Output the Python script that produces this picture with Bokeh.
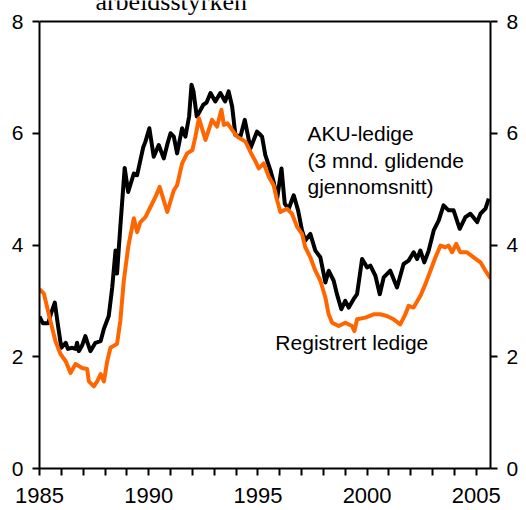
from bokeh.plotting import figure
from bokeh.models import LinearAxis, FixedTicker, Label, Range1d, Span
from bokeh.embed import file_html
from bokeh.resources import INLINE

# AKU-ledige (3 mnd. glidende gjennomsnitt), decimal year / percent
aku_t = [1985.00, 1985.15, 1985.40, 1985.55, 1985.70, 1985.85, 1986.00, 1986.20, 1986.30, 1986.50,
         1986.65, 1986.72, 1986.80, 1986.95, 1987.10, 1987.20, 1987.33, 1987.56, 1987.80, 1987.95,
         1988.17, 1988.33, 1988.48, 1988.55, 1988.70, 1988.90, 1989.06, 1989.32, 1989.47, 1989.62,
         1989.75, 1989.85, 1990.03, 1990.23, 1990.46, 1990.69, 1990.85, 1991.00, 1991.15, 1991.30,
         1991.53, 1991.68, 1991.85, 1991.96, 1992.05, 1992.20, 1992.35, 1992.50, 1992.65, 1992.83,
         1993.05, 1993.28, 1993.50, 1993.66, 1993.82, 1993.97, 1994.20, 1994.40, 1994.66, 1994.96,
         1995.04, 1995.19, 1995.34, 1995.57, 1995.72, 1995.88, 1996.08, 1996.23, 1996.41, 1996.64,
         1996.84, 1997.02, 1997.17, 1997.40, 1997.63, 1997.86, 1998.09, 1998.24, 1998.47, 1998.62,
         1998.82, 1999.00, 1999.16, 1999.38, 1999.54, 1999.77, 2000.00, 2000.15, 2000.38, 2000.58,
         2000.76, 2001.06, 2001.37, 2001.67, 2001.90, 2002.13, 2002.29, 2002.44, 2002.62, 2002.82,
         2003.05, 2003.28, 2003.50, 2003.73, 2003.96, 2004.24, 2004.50, 2004.73, 2005.04, 2005.19,
         2005.42, 2005.57]
aku_v = [2.72, 2.60, 2.60, 2.80, 2.97, 2.55, 2.16, 2.25, 2.14, 2.16,
         2.14, 2.25, 2.10, 2.20, 2.37, 2.25, 2.10, 2.25, 2.28, 2.50,
         2.73, 3.24, 3.90, 3.49, 4.32, 5.38, 4.95, 5.28, 5.25, 5.52,
         5.75, 5.85, 6.09, 5.58, 5.79, 5.55, 5.80, 6.00, 5.94, 5.64,
         6.09, 5.94, 6.30, 6.87, 6.75, 6.30, 6.40, 6.51, 6.55, 6.72,
         6.57, 6.72, 6.57, 6.75, 6.48, 5.97, 5.94, 6.24, 5.73, 6.03,
         6.00, 5.94, 5.61, 5.34, 5.13, 4.83, 5.37, 4.74, 4.65, 4.89,
         4.62, 4.26, 4.08, 4.20, 3.90, 3.78, 3.33, 3.54, 3.36, 3.12,
         2.85, 3.00, 2.88, 3.03, 3.12, 3.75, 3.60, 3.63, 3.45, 3.12,
         3.42, 3.54, 3.24, 3.66, 3.72, 3.87, 3.75, 3.90, 3.69, 3.90,
         4.26, 4.44, 4.71, 4.62, 4.62, 4.29, 4.50, 4.56, 4.41, 4.56,
         4.65, 4.83]

# Registrert ledige
reg_t = [1985.00, 1985.20, 1985.50, 1985.73, 1985.96, 1986.20, 1986.42, 1986.65, 1986.95, 1987.18,
         1987.26, 1987.49, 1987.64, 1987.80, 1987.95, 1988.10, 1988.25, 1988.55, 1988.70, 1988.86,
         1989.06, 1989.32, 1989.47, 1989.62, 1989.85, 1990.08, 1990.31, 1990.50, 1990.85, 1991.15,
         1991.30, 1991.53, 1991.76, 1992.00, 1992.14, 1992.30, 1992.60, 1992.90, 1993.13, 1993.33,
         1993.44, 1993.60, 1993.82, 1994.05, 1994.43, 1994.73, 1994.90, 1995.04, 1995.27, 1995.50,
         1995.72, 1995.88, 1996.03, 1996.33, 1996.56, 1996.80, 1997.02, 1997.17, 1997.40, 1997.63,
         1997.86, 1998.09, 1998.24, 1998.40, 1998.70, 1999.00, 1999.31, 1999.42, 1999.54, 1999.92,
         2000.30, 2000.60, 2000.91, 2001.21, 2001.52, 2001.75, 2001.90, 2002.13, 2002.44, 2002.67,
         2002.90, 2003.13, 2003.36, 2003.58, 2003.73, 2003.89, 2004.08, 2004.27, 2004.57, 2004.88,
         2005.19, 2005.42, 2005.65]
reg_v = [3.21, 3.13, 2.64, 2.28, 2.05, 1.92, 1.71, 1.87, 1.80, 1.78,
         1.56, 1.47, 1.56, 1.69, 1.56, 1.92, 2.16, 2.23, 2.64, 3.36,
         3.96, 4.48, 4.23, 4.41, 4.50, 4.68, 4.86, 5.04, 4.59, 4.98,
         5.07, 5.46, 5.64, 5.70, 5.94, 6.27, 5.88, 6.24, 6.12, 6.42,
         6.15, 6.18, 6.06, 5.94, 5.85, 5.61, 5.49, 5.37, 5.46, 5.22,
         5.07, 4.80, 4.59, 4.65, 4.56, 4.32, 4.20, 3.96, 3.78, 3.54,
         3.36, 3.06, 2.76, 2.61, 2.55, 2.61, 2.55, 2.46, 2.67, 2.70,
         2.76, 2.76, 2.73, 2.67, 2.58, 2.76, 2.91, 2.88, 3.09, 3.30,
         3.54, 3.78, 3.99, 3.96, 3.99, 3.87, 4.02, 3.87, 3.87, 3.78,
         3.69, 3.54, 3.40]

year_ticks = list(range(1985, 2006))
year_labels = {y: (str(y) if y % 5 == 0 else "") for y in year_ticks}
y_ticks = [0, 2, 4, 6, 8]
y_max = 8

# frame reaches the canvas top so the cut-off heading can be drawn; axes are bounded at 0..8
p = figure(width=526, height=510, output_backend="svg", toolbar_location=None,
           x_range=Range1d(1985, 2005.65), y_range=Range1d(0, 8.376),
           min_border_left=39, min_border_right=36, min_border_top=0, min_border_bottom=42)
p.grid.visible = False
p.background_fill_color = "white"
p.border_fill_color = "white"
p.outline_line_color = None

p.add_layout(Span(location=y_max, dimension="width", line_color="black", line_width=2))

p.line(aku_t, aku_v, line_color="black", line_width=4, line_join="round")
p.line(reg_t, reg_v, line_color="#FF6600", line_width=4, line_join="round")


def style_axis(ax, standoff):
    ax.minor_tick_line_color = None
    ax.major_tick_out = 7
    ax.major_tick_in = 0
    ax.major_tick_line_width = 2
    ax.axis_line_width = 2
    ax.major_label_standoff = standoff
    ax.major_label_text_font = "Liberation Sans"
    ax.major_label_text_font_size = "21px"
    ax.major_label_text_color = "black"


xa = p.xaxis[0]
xa.ticker = FixedTicker(ticks=year_ticks)
xa.major_label_overrides = year_labels
style_axis(xa, 12)
xa.major_label_text_font_size = "22px"

ya = p.yaxis[0]
ya.ticker = FixedTicker(ticks=y_ticks)
ya.bounds = (0, y_max)
style_axis(ya, 9)

ra = LinearAxis(ticker=FixedTicker(ticks=y_ticks), bounds=(0, y_max))
style_axis(ra, 9)
p.add_layout(ra, "right")

for txt, yy in [("AKU-ledige", 5.99), ("(3 mnd. glidende", 5.51), ("gjennomsnitt)", 5.04)]:
    p.add_layout(Label(x=1997.27, y=yy, text=txt, text_font="Liberation Sans",
                       text_font_size="21px", text_baseline="alphabetic", text_color="black"))
p.add_layout(Label(x=1995.8, y=2.26, text="Registrert ledige", text_font="Liberation Sans",
                   text_font_size="21px", text_baseline="alphabetic", text_color="black"))
p.add_layout(Label(x=1987.56, y=8.35, text="arbeidsstyrken", text_font="Liberation Serif",
                   text_font_size="26px", text_baseline="alphabetic", text_color="black"))

open("out.html", "w").write(file_html(p, INLINE))
